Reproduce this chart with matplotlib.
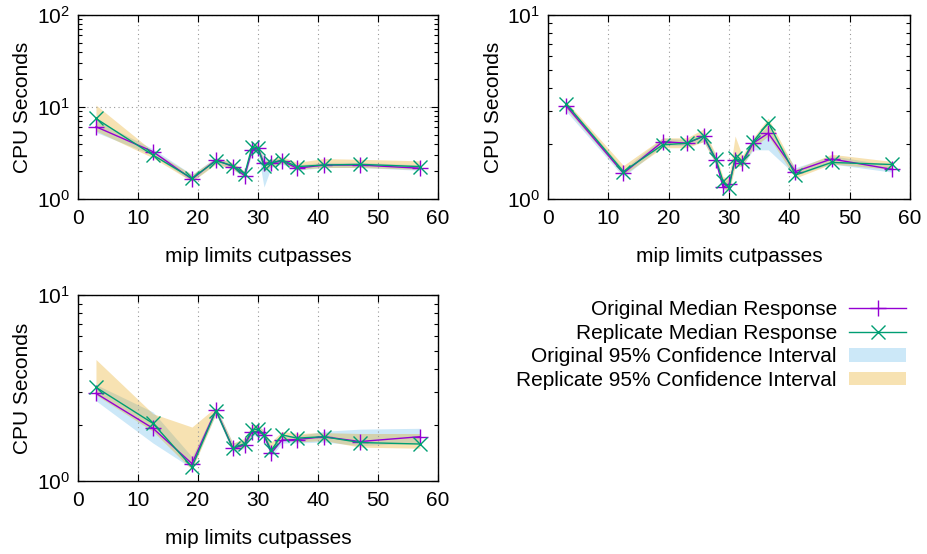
import matplotlib
matplotlib.use("Agg")
import matplotlib.pyplot as plt
from matplotlib.lines import Line2D
from matplotlib.patches import Patch
from matplotlib.ticker import LogLocator, NullFormatter

plt.rcParams['font.family'] = ['Liberation Sans', 'DejaVu Sans']
plt.rcParams['mathtext.fontset'] = 'custom'
plt.rcParams['mathtext.rm'] = 'Liberation Sans'

x = [3, 12.5, 19, 23, 25.8, 27.8, 29, 30, 31, 32.2, 34, 36.5, 41, 47, 57]

# Panel 1
orig1 = [6.1, 3.27, 1.64, 2.66, 2.25, 1.79, 3.4, 3.55, 2.45, 2.45, 2.6, 2.16, 2.34, 2.34, 2.16]
rep1 = [7.5, 3.0, 1.68, 2.6, 2.3, 1.88, 3.7, 3.6, 2.29, 2.45, 2.66, 2.25, 2.34, 2.38, 2.25]
orig_lo1 = [5.3, 3.0, 1.55, 2.45, 2.1, 1.7, 3.1, 3.2, 1.35, 2.2, 2.4, 2.05, 2.2, 2.2, 2.05]
orig_hi1 = [7.2, 3.5, 1.85, 2.85, 2.45, 1.95, 3.7, 3.9, 2.8, 2.7, 2.8, 2.35, 2.5, 2.5, 2.35]
rep_lo1 = [5.5, 2.8, 1.55, 2.4, 2.1, 1.75, 3.3, 3.3, 2.0, 2.25, 2.45, 2.1, 2.2, 2.2, 2.1]
rep_hi1 = [10.5, 3.3, 1.85, 2.8, 2.5, 2.0, 4.0, 4.0, 2.6, 2.7, 2.9, 2.5, 2.75, 2.7, 2.6]

# Panel 2
orig2 = [3.21, 1.38, 2.05, 2.01, 2.19, 1.63, 1.16, 1.2, 1.63, 1.57, 2.01, 2.28, 1.41, 1.65, 1.45]
rep2 = [3.29, 1.41, 1.97, 2.01, 2.2, 1.65, 1.25, 1.15, 1.67, 1.6, 2.05, 2.6, 1.35, 1.58, 1.54]
orig_lo2 = [3.0, 1.32, 1.95, 1.95, 2.05, 1.55, 1.12, 1.12, 1.55, 1.5, 1.85, 1.85, 1.35, 1.55, 1.4]
orig_hi2 = [3.35, 1.45, 2.15, 2.1, 2.3, 1.72, 1.25, 1.28, 1.72, 1.65, 2.1, 2.5, 1.48, 1.72, 1.52]
rep_lo2 = [3.1, 1.35, 1.9, 1.9, 2.05, 1.55, 1.15, 1.1, 1.5, 1.5, 1.9, 2.2, 1.3, 1.55, 1.45]
rep_hi2 = [3.4, 1.52, 2.15, 2.15, 2.4, 1.75, 1.32, 1.3, 2.2, 1.72, 2.15, 2.75, 1.45, 1.75, 1.6]

# Panel 3
orig3 = [2.96, 1.92, 1.24, 2.41, 1.5, 1.56, 1.84, 1.84, 1.77, 1.41, 1.66, 1.67, 1.73, 1.63, 1.73]
rep3 = [3.19, 2.04, 1.19, 2.39, 1.5, 1.59, 1.88, 1.9, 1.77, 1.46, 1.77, 1.7, 1.73, 1.61, 1.58]
orig_lo3 = [2.7, 1.6, 1.17, 2.3, 1.42, 1.5, 1.75, 1.75, 1.7, 1.35, 1.6, 1.6, 1.62, 1.55, 1.6]
orig_hi3 = [3.3, 2.35, 1.35, 2.5, 1.6, 1.65, 1.95, 1.95, 1.9, 1.5, 1.75, 1.75, 1.85, 1.9, 1.92]
rep_lo3 = [2.9, 1.85, 1.15, 2.3, 1.45, 1.52, 1.8, 1.8, 1.72, 1.4, 1.68, 1.62, 1.65, 1.52, 1.5]
rep_hi3 = [4.5, 2.3, 1.95, 2.5, 1.6, 1.7, 2.0, 2.0, 1.85, 1.62, 1.85, 1.8, 1.82, 1.8, 1.8]

labels = ["Original Median Response", "Replicate Median Response",
          "Original 95% Confidence Interval", "Replicate 95% Confidence Interval"]

C_ORIG = '#9400d3'
C_REP = '#009e73'
C_BLUE = '#56b4e9'
C_ORANGE = '#e69f00'
FS = 15

fig = plt.figure(figsize=(9.27, 5.54), dpi=100)

def panel(rect, orig, rep, olo, ohi, rlo, rhi, ymax):
    ax = fig.add_axes(rect)
    ax.fill_between(x, olo, ohi, color=C_BLUE, alpha=0.3, lw=0)
    ax.fill_between(x, rlo, rhi, color=C_ORANGE, alpha=0.3, lw=0)
    ax.plot(x, orig, color=C_ORIG, lw=1, marker='+', ms=11, mew=1)
    ax.plot(x, rep, color=C_REP, lw=1, marker='x', ms=10, mew=1)
    ax.set_yscale('log')
    ax.set_xlim(0, 60)
    ax.set_ylim(1, ymax)
    ax.set_xticks([0, 10, 20, 30, 40, 50, 60])
    ax.yaxis.set_major_locator(LogLocator(base=10))
    ax.yaxis.set_minor_locator(LogLocator(base=10, subs=range(2, 10)))
    ax.yaxis.set_minor_formatter(NullFormatter())
    ax.tick_params(which='both', direction='in', top=True, right=True, labelsize=FS)
    ax.tick_params(which='major', length=5, width=0.8)
    ax.tick_params(which='minor', length=3, width=0.8)
    ax.tick_params(axis='x', pad=7)
    ax.tick_params(axis='y', pad=6)
    ax.grid(True, which='major', color='#999999', linestyle=(0, (1, 3)), lw=0.8)
    ax.set_xlabel("mip limits cutpasses", fontsize=FS, labelpad=14)
    ax.set_ylabel("CPU Seconds", fontsize=FS, labelpad=3)
    for s in ax.spines.values():
        s.set_linewidth(1.0)
    return ax

panel([0.0841, 0.6408, 0.3884, 0.3321], orig1, rep1, orig_lo1, orig_hi1, rep_lo1, rep_hi1, 100)
panel([0.5912, 0.6408, 0.3905, 0.3321], orig2, rep2, orig_lo2, orig_hi2, rep_lo2, rep_hi2, 10)
panel([0.0841, 0.1318, 0.3884, 0.3357], orig3, rep3, orig_lo3, orig_hi3, rep_lo3, rep_hi3, 10)

handles = [
    Line2D([], [], color=C_ORIG, lw=1, marker='+', ms=11, mew=1),
    Line2D([], [], color=C_REP, lw=1, marker='x', ms=10, mew=1),
    Patch(facecolor=C_BLUE, alpha=0.3, lw=0),
    Patch(facecolor=C_ORANGE, alpha=0.3, lw=0),
]
fig.legend(handles, labels, loc='upper right', bbox_to_anchor=(0.986, 0.473),
           frameon=False, markerfirst=False, fontsize=FS, handlelength=2.7,
           handleheight=0.6, labelspacing=0.22, handletextpad=0.6, borderaxespad=0)

fig.savefig("out.png", dpi=100)
